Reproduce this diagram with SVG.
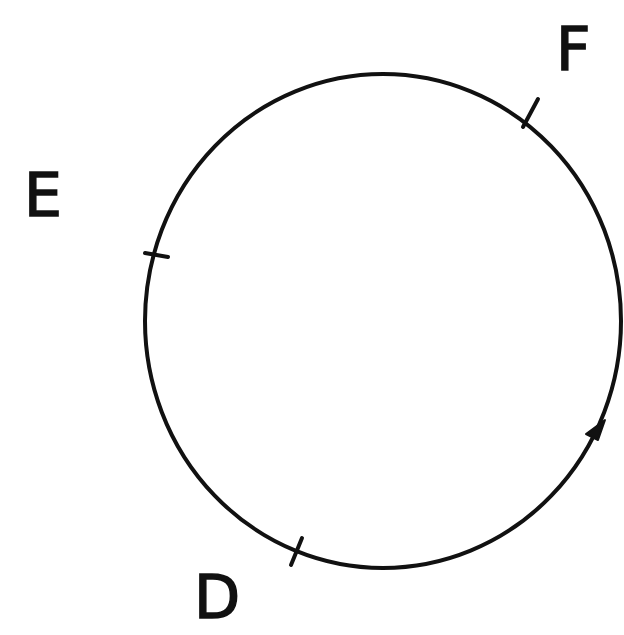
<svg xmlns="http://www.w3.org/2000/svg" width="624" height="635" viewBox="0 0 624 635">
<style>
.ln{fill:none;stroke:#111;stroke-width:4;stroke-linecap:round}
.lb{font-family:"DejaVu Sans",sans-serif;font-size:60px;fill:#111;stroke:#111;stroke-width:1.5}
</style>
<rect width="624" height="635" fill="#fff"/>
<g id="circle"><ellipse class="ln" cx="383" cy="321" rx="238" ry="247"/></g>
<g id="connectors">
<line class="ln" x1="538" y1="99" x2="523" y2="127"/>
<line class="ln" x1="145" y1="253" x2="168" y2="257"/>
<line class="ln" x1="302" y1="538" x2="291" y2="565"/>
<path d="M586 434 L605 420 L598 440 Z" fill="#111" stroke="#111" stroke-width="2" stroke-linejoin="round"/>
</g>
<g id="F"><text class="lb" x="556" y="70">F</text></g>
<g id="E"><text class="lb" x="24" y="216">E</text></g>
<g id="D"><text class="lb" x="194" y="618">D</text></g>
</svg>
